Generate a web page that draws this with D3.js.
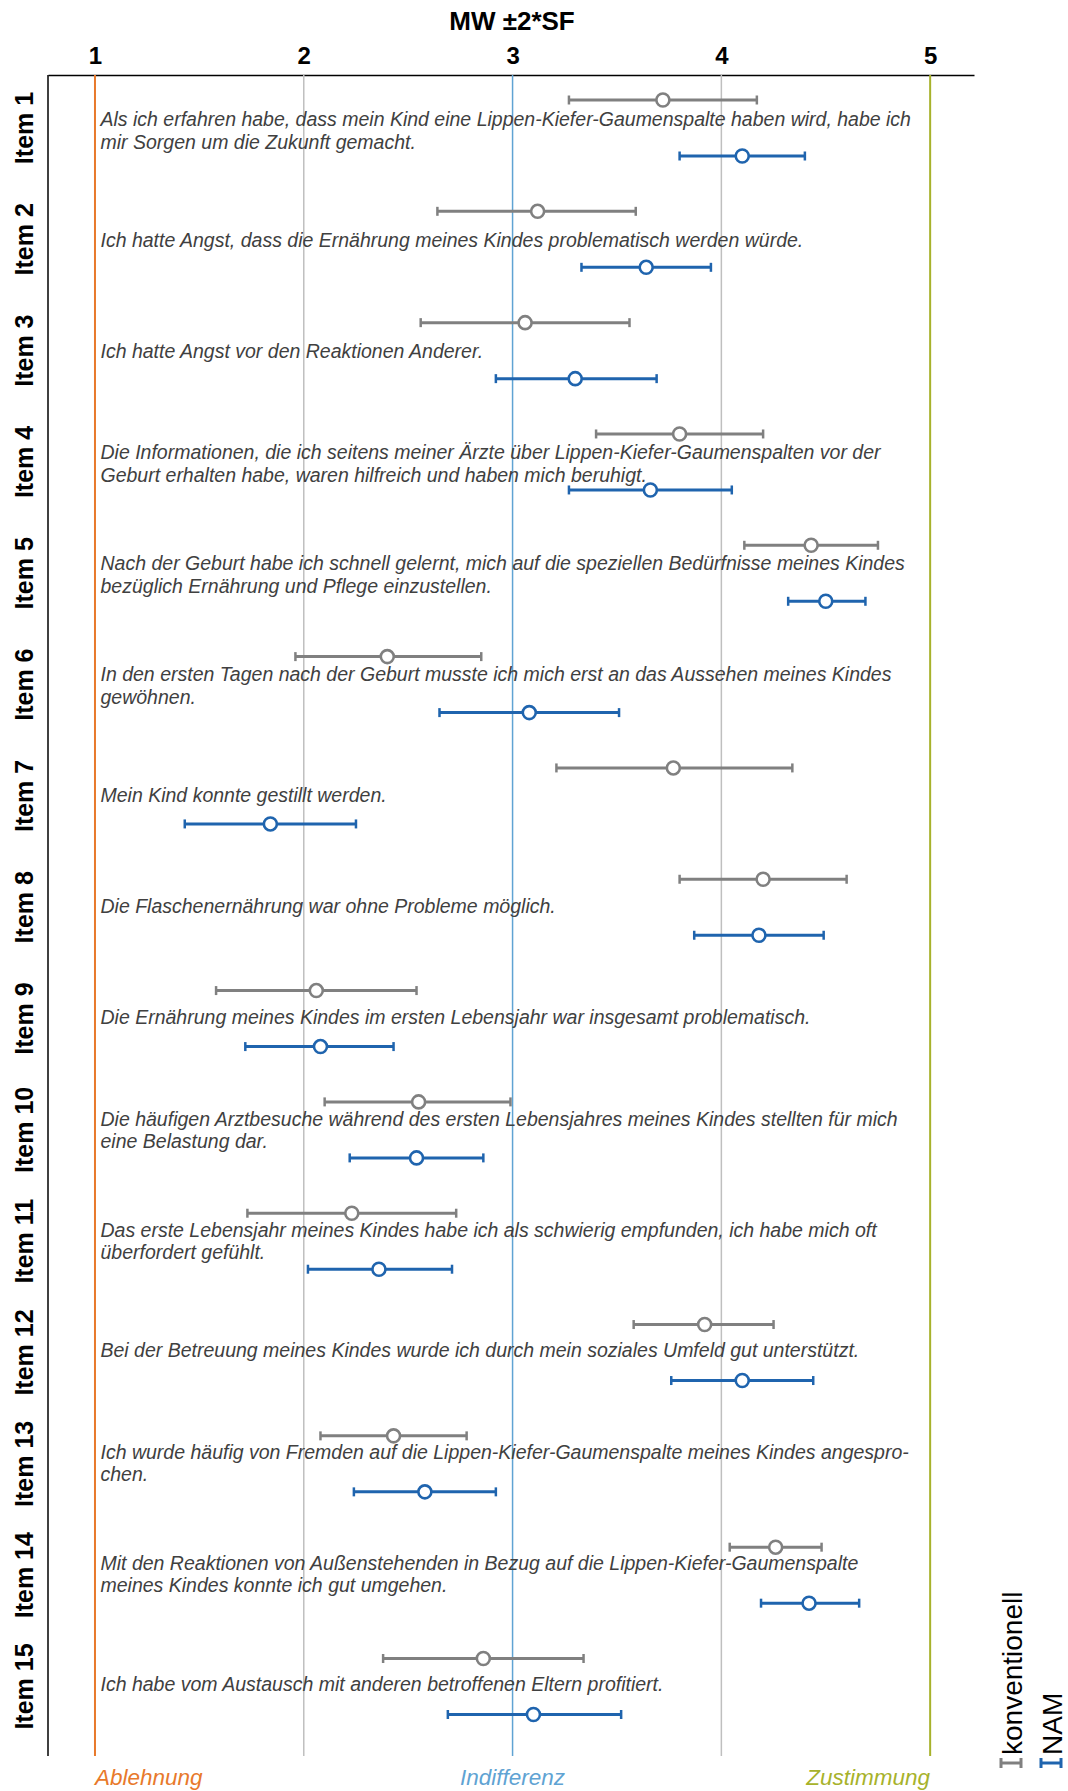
<!DOCTYPE html>
<html><head><meta charset="utf-8">
<script src="https://cdn.jsdelivr.net/npm/d3@7"></script>
<style>
html,body{margin:0;padding:0;background:#fff;}
svg{display:block;font-family:"Liberation Sans",Arial,sans-serif;}
</style></head>
<body>
<svg id="chart" width="1068" height="1791"></svg>
<script>
const items = ["Item 1","Item 2","Item 3","Item 4","Item 5","Item 6","Item 7","Item 8","Item 9","Item 10","Item 11","Item 12","Item 13","Item 14","Item 15"];
const statements = [
  ["Als ich erfahren habe, dass mein Kind eine Lippen-Kiefer-Gaumenspalte haben wird, habe ich","mir Sorgen um die Zukunft gemacht."],
  ["Ich hatte Angst, dass die Ernährung meines Kindes problematisch werden würde."],
  ["Ich hatte Angst vor den Reaktionen Anderer."],
  ["Die Informationen, die ich seitens meiner Ärzte über Lippen-Kiefer-Gaumenspalten vor der","Geburt erhalten habe, waren hilfreich und haben mich beruhigt."],
  ["Nach der Geburt habe ich schnell gelernt, mich auf die speziellen Bedürfnisse meines Kindes","bezüglich Ernährung und Pflege einzustellen."],
  ["In den ersten Tagen nach der Geburt musste ich mich erst an das Aussehen meines Kindes","gewöhnen."],
  ["Mein Kind konnte gestillt werden."],
  ["Die Flaschenernährung war ohne Probleme möglich."],
  ["Die Ernährung meines Kindes im ersten Lebensjahr war insgesamt problematisch."],
  ["Die häufigen Arztbesuche während des ersten Lebensjahres meines Kindes stellten für mich","eine Belastung dar."],
  ["Das erste Lebensjahr meines Kindes habe ich als schwierig empfunden, ich habe mich oft","überfordert gefühlt."],
  ["Bei der Betreuung meines Kindes wurde ich durch mein soziales Umfeld gut unterstützt."],
  ["Ich wurde häufig von Fremden auf die Lippen-Kiefer-Gaumenspalte meines Kindes angespro-","chen."],
  ["Mit den Reaktionen von Außenstehenden in Bezug auf die Lippen-Kiefer-Gaumenspalte","meines Kindes konnte ich gut umgehen."],
  ["Ich habe vom Austausch mit anderen betroffenen Eltern profitiert."]
];
// konventionell (gray)
const konvMean = [3.72,3.12,3.06,3.80,4.43,2.40,3.77,4.20,2.06,2.55,2.23,3.92,2.43,4.26,2.86];
const konvLow  = [3.27,2.64,2.56,3.40,4.11,1.96,3.21,3.80,1.58,2.10,1.73,3.58,2.08,4.04,2.38];
const konvHigh = [4.17,3.59,3.56,4.20,4.75,2.85,4.34,4.60,2.54,2.99,2.73,4.25,2.78,4.48,3.34];
// NAM (blue)
const namMean = [4.10,3.64,3.30,3.66,4.50,3.08,1.84,4.18,2.08,2.54,2.36,4.10,2.58,4.42,3.10];
const namLow  = [3.80,3.33,2.92,3.27,4.32,2.65,1.43,3.87,1.72,2.22,2.02,3.76,2.24,4.19,2.69];
const namHigh = [4.40,3.95,3.69,4.05,4.69,3.51,2.25,4.49,2.43,2.86,2.71,4.44,2.92,4.66,3.52];
const tickValues = [1,2,3,4,5];
const refLabels = [{v:1,t:"Ablehnung",c:"#E8792B",a:"start"},{v:3,t:"Indifferenz",c:"#5FA3D3",a:"middle"},{v:5,t:"Zustimmung",c:"#A7B22B",a:"end"}];
const seriesNames = ["konventionell","NAM"];

const colK = "#808080", colN = "#1F64AE";
const refColors = {1:"#E8792B",2:"#BFBFBF",3:"#5FA3D3",4:"#BFBFBF",5:"#A7B22B"};

const svg = d3.select("#chart");
const plotTop = 75, plotBottom = 1756, plotLeft = 48, plotRight = 974;
const x = d3.scaleLinear().domain([0.775, 5.21]).range([plotLeft, plotRight]);
const y = d3.scalePoint().domain(items).range([128, 1686.5]);
const yText = d3.scalePoint().domain(items).range([126, 1681]);
const off = 28;

// title
svg.append("text").attr("x", 512).attr("y", 30).attr("text-anchor","middle")
  .attr("font-size", 26).attr("font-weight","bold").attr("fill","#000").text("MW ±2*SF");

// top axis
const ax = svg.append("g").attr("transform",`translate(0,${plotTop})`)
  .call(d3.axisTop(x).tickValues(tickValues).tickFormat(d3.format("d")).tickSize(0).tickPadding(11));
ax.select(".domain").attr("stroke","#000").attr("stroke-width",1.5);
ax.selectAll("text").attr("font-size",24).attr("font-weight","bold").attr("fill","#000")
  .attr("font-family",'"Liberation Sans",Arial,sans-serif');

// left axis line
const ay = svg.append("g").attr("transform",`translate(${plotLeft},0)`)
  .call(d3.axisLeft(y).tickSize(0).tickFormat(""));
ay.select(".domain").attr("d",`M0,${plotTop}V${plotBottom}`).attr("stroke","#000").attr("stroke-width",1.5);

// item labels
svg.append("g").selectAll("text").data(items).join("text")
  .attr("transform", d => `translate(33,${y(d)}) rotate(-90)`)
  .attr("text-anchor","middle").attr("font-size",25).attr("font-weight","bold").attr("fill","#000")
  .text(d => d);

// reference lines
svg.append("g").selectAll("line").data(tickValues).join("line")
  .attr("x1", d => x(d)).attr("x2", d => x(d)).attr("y1", plotTop).attr("y2", plotBottom)
  .attr("stroke", d => refColors[d]).attr("stroke-width", d => (d===1||d===5)?2:1.5);

// statements
const st = svg.append("g").attr("font-size",19.5).attr("font-style","italic").attr("fill","#404040");
statements.forEach((lines,i) => {
  const by = yText(items[i]) + (lines.length===1 ? 9.5 : 0);
  lines.forEach((ln,j) => {
    st.append("text").attr("x",100.5).attr("y", by + j*22.5).text(ln);
  });
});

// error bars
function drawSeries(mean, low, high, color, dy){
  const g = svg.append("g").attr("stroke", color).attr("fill","none");
  items.forEach((it,i) => {
    const yy = y(it) + dy;
    g.append("line").attr("x1", x(low[i])).attr("x2", x(high[i])).attr("y1", yy).attr("y2", yy).attr("stroke-width",3);
    [low[i], high[i]].forEach(v => g.append("line").attr("x1", x(v)).attr("x2", x(v)).attr("y1", yy-4.5).attr("y2", yy+4.5).attr("stroke-width",2.5));
    g.append("circle").attr("cx", x(mean[i])).attr("cy", yy).attr("r", 6.5).attr("fill","#fff").attr("stroke-width",2.6);
  });
}
drawSeries(konvMean, konvLow, konvHigh, colK, -off);
drawSeries(namMean, namLow, namHigh, colN, off);

// reference labels
svg.append("g").selectAll("text").data(refLabels).join("text")
  .attr("x", d => x(d.v)).attr("y", 1785).attr("text-anchor", d => d.a)
  .attr("font-size",22.5).attr("font-style","italic").attr("fill", d => d.c).text(d => d.t);

// legend (rotated)
const lg = svg.append("g");
const legX = [1011, 1051], legColors = [colK, colN];
seriesNames.forEach((s,i) => {
  const cx = legX[i], cy = 1763;
  lg.append("line").attr("x1",cx-10).attr("x2",cx+10).attr("y1",cy).attr("y2",cy).attr("stroke",legColors[i]).attr("stroke-width",3);
  [cx-10,cx+10].forEach(xx => lg.append("line").attr("x1",xx).attr("x2",xx).attr("y1",cy-5).attr("y2",cy+5).attr("stroke",legColors[i]).attr("stroke-width",3));
  lg.append("text").attr("transform",`translate(${cx+11},1755) rotate(-90)`)
    .attr("font-size",28).attr("fill","#000").text(s);
});
</script>
</body></html>
